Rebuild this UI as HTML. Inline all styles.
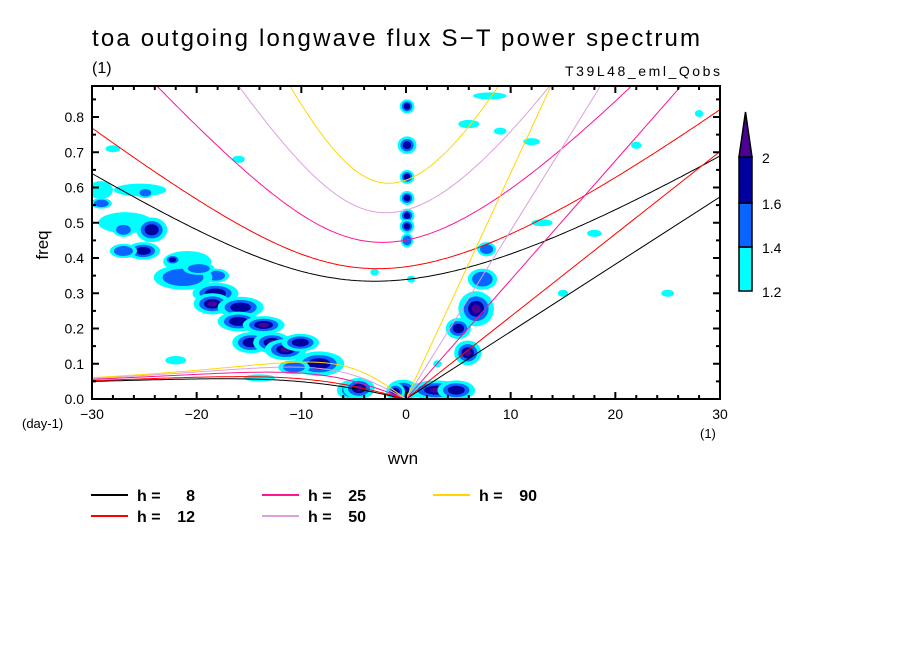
<!DOCTYPE html>
<html><head><meta charset="utf-8"><style>
body{margin:0;background:#fff}
svg text{font-family:"Liberation Sans","DejaVu Sans",sans-serif;fill:#000}
</style></head><body>
<svg id="chart" width="904" height="654" viewBox="0 0 904 654" xmlns="http://www.w3.org/2000/svg">
<defs><clipPath id="plotclip"><rect x="92" y="86" width="628" height="313"/></clipPath></defs>
<rect width="904" height="654" fill="#fff"/>
<text x="92" y="46" font-size="24" textLength="608" lengthAdjust="spacing">toa outgoing longwave flux S−T power spectrum</text>
<text x="92" y="73" font-size="16">(1)</text>
<text x="565" y="76" font-size="14" textLength="155" lengthAdjust="spacing">T39L48_eml_Qobs</text>
<g id="blobs" clip-path="url(#plotclip)"></g>
<g id="curves" clip-path="url(#plotclip)"></g>
<g id="axes"></g>
<text x="48" y="245" font-size="17" transform="rotate(-90 48 245)" text-anchor="middle">freq</text>
<text x="22" y="428" font-size="13">(day-1)</text>
<text x="700" y="438" font-size="13">(1)</text>
<text x="403" y="464" font-size="17" text-anchor="middle">wvn</text>
<g id="legend"></g>
<g id="colorbar"></g>
</svg>
<script>
// ---- data ----
const depths = [8, 12, 25, 50, 90];
const depthColors = ['#000000', '#ff0000', '#ff1493', '#dda0dd', '#ffd700'];
const xTicks = [-30, -20, -10, 0, 10, 20, 30];
const yTicks = [0, 0.1, 0.2, 0.3, 0.4, 0.5, 0.6, 0.7, 0.8];
const cbLevels = [1.2, 1.4, 1.6, 2];
const levelColors = ['#00ffff', '#0a64ff', '#0000a0', '#4b0096'];
// blobs: wavenumber, freq, half-width (wvn), half-height (freq), level (1..4)
const blobK = [-29.2,-25.4,-24.9,-29.1,-26.8,-24.3,-27.0,-25.1,-27.0,-20.9,-22.3,-18.2,-21.3,-19.8,-18.2,-18.5,-15.8,-16.0,-13.6,-14.8,-12.8,-11.5,-10.1,-8.3,-10.7,-5.0,-0.3,0.1,0.1,0.1,0.1,0.1,0.1,0.1,6.7,5.9,5.0,7.3,7.7,2.9,4.8,-4.5,-1.0,-22,-14,3,8,12,18,25,28,9,6,13,22,-16,-28,-3,0.5,15];
const blobF = [0.593,0.593,0.585,0.555,0.50,0.48,0.48,0.42,0.42,0.39,0.395,0.35,0.345,0.37,0.30,0.27,0.26,0.22,0.21,0.16,0.16,0.14,0.16,0.10,0.09,0.025,0.025,0.83,0.72,0.63,0.57,0.52,0.49,0.45,0.256,0.131,0.20,0.34,0.425,0.025,0.025,0.03,0.02,0.11,0.06,0.10,0.86,0.73,0.47,0.30,0.81,0.76,0.78,0.50,0.72,0.68,0.71,0.36,0.34,0.30];
const blobDk = [1.2,2.5,0.8,1.0,2.6,1.5,1.0,1.6,1.3,2.3,0.8,1.3,2.8,1.5,2.2,1.8,2.2,2.0,2.0,1.8,1.8,2.0,1.8,2.4,1.5,1.6,1.5,0.7,0.9,0.7,0.7,0.7,0.7,0.6,1.7,1.3,1.2,1.4,0.9,2.6,1.8,1.5,0.9,1.0,1.5,0.4,1.6,0.8,0.7,0.6,0.4,0.6,1.0,1.0,0.5,0.6,0.7,0.4,0.4,0.5];
const blobDf = [0.025,0.018,0.015,0.015,0.03,0.035,0.02,0.025,0.02,0.03,0.015,0.02,0.035,0.018,0.03,0.03,0.03,0.028,0.025,0.03,0.03,0.03,0.025,0.035,0.02,0.03,0.03,0.02,0.025,0.02,0.02,0.02,0.02,0.02,0.05,0.035,0.03,0.03,0.02,0.028,0.028,0.03,0.025,0.012,0.01,0.01,0.01,0.01,0.01,0.01,0.01,0.01,0.012,0.01,0.01,0.01,0.01,0.01,0.01,0.01];
const blobLevel = [1,1,2,2,1,3,2,3,2,1,3,2,2,2,3,4,3,3,4,3,4,4,3,3,2,3,4,3,3,3,3,3,3,2,4,4,3,2,2,4,3,4,3,1,1,1,1,1,1,1,1,1,1,1,1,1,1,1,1,1];

// ---- axes functions ----
const X0=92,X1=720,Y0=399,Y1=86, KMIN=-30,KMAX=30, FMAX=(399-86)/352.5;
const sx=k=>X0+(k-KMIN)/(KMAX-KMIN)*(X1-X0);
const sy=f=>Y0-f/FMAX*(Y0-Y1);
const NS='http://www.w3.org/2000/svg';
function mk(tag,attrs,parent){const e=document.createElementNS(NS,tag);for(const a in attrs)e.setAttribute(a,attrs[a]);parent.appendChild(e);return e;}

// ---- blobs ----
const gB=document.getElementById('blobs');
const scales=[1,0.7,0.45,0.25];
for(let i=0;i<blobK.length;i++){
  for(let l=0;l<blobLevel[i];l++){
    const rx=blobDk[i]*scales[l]*(X1-X0)/(KMAX-KMIN), ry=blobDf[i]*scales[l]*(Y0-Y1)/FMAX;
    const e=mk('ellipse',{cx:sx(blobK[i]),cy:sy(blobF[i]),rx:rx,ry:ry,fill:levelColors[l]},gB);
    
    
  }
}

// ---- dispersion curves ----
const beta=2.289e-11, a=6.371e6, g=9.8;
function roots(k){ // w^3-(k^2+3)w-k=0
  const p=-(k*k+3), q=-k, m=2*Math.sqrt(-p/3);
  const th=Math.acos(Math.max(-1,Math.min(1,3*q/(2*p)*Math.sqrt(-3/p))))/3;
  return [0,1,2].map(j=>m*Math.cos(th-2*Math.PI*j/3)).sort((u,v)=>u-v);
}
const gC=document.getElementById('curves');
depths.forEach((h,i)=>{
  const c=Math.sqrt(g*h), L=Math.sqrt(c/beta), T=Math.sqrt(beta*c)*86400/(2*Math.PI);
  let ig='',ro='';
  for(let s=-30;s<=30.001;s+=0.25){
    const kn=s/a*L, r=roots(kn);
    ig+=(ig?'L':'M')+sx(s).toFixed(1)+','+sy(r[2]*T).toFixed(1);
    if(s<=0) ro+=(ro?'L':'M')+sx(s).toFixed(1)+','+sy(r[1]*T).toFixed(1);
  }
  const p1=mk('path',{d:ig,stroke:depthColors[i],'stroke-width':1,fill:'none'},gC);
  
  
  const p2=mk('path',{d:ro,stroke:depthColors[i],'stroke-width':1,fill:'none'},gC);
  
  
  const kf=30/a*c*86400/(2*Math.PI);
  const p3=mk('line',{x1:sx(0),y1:sy(0),x2:sx(30),y2:sy(kf),stroke:depthColors[i],'stroke-width':1},gC);
  
  
});

// ---- axes ----
const gA=document.getElementById('axes');
const fr=mk('rect',{x:X0,y:Y1,width:X1-X0,height:Y0-Y1,fill:'none',stroke:'#000','stroke-width':2},gA);


for(let k=-30;k<=30;k+=2){
  const len=(k%10===0)?7:4;
  mk('line',{x1:sx(k),y1:Y0,x2:sx(k),y2:Y0-len,stroke:'#000','stroke-width':2},gA);
  mk('line',{x1:sx(k),y1:Y1,x2:sx(k),y2:Y1+len,stroke:'#000','stroke-width':2},gA);
}
for(let j=0;j*0.05<=FMAX;j++){
  const f=j*0.05, len=(j%2===0)?7:4;
  mk('line',{x1:X0,y1:sy(f),x2:X0+len,y2:sy(f),stroke:'#000','stroke-width':2},gA);
  mk('line',{x1:X1,y1:sy(f),x2:X1-len,y2:sy(f),stroke:'#000','stroke-width':2},gA);
}
xTicks.forEach(k=>{
  const t=mk('text',{x:sx(k),y:419,'font-size':14,'text-anchor':'middle'},gA);
  t.textContent=(k<0?'−':'')+Math.abs(k);
  
  
});
yTicks.forEach(f=>{
  const t=mk('text',{x:84,y:sy(f)+5,'font-size':14,'text-anchor':'end'},gA);
  t.textContent=f.toFixed(1);
  
  
});

// ---- legend ----
const gL=document.getElementById('legend');
const legX=[91,91,262,262,433], legY=[495,516,495,516,495];
depths.forEach((h,i)=>{
  const ln=mk('line',{x1:legX[i],y1:legY[i],x2:legX[i]+37,y2:legY[i],stroke:depthColors[i],'stroke-width':2},gL);
  
  
  const t1=mk('text',{x:legX[i]+46,y:legY[i]+6,'font-size':16,'font-weight':'bold'},gL);
  t1.textContent='h =';
  
  
  const t2=mk('text',{x:legX[i]+104,y:legY[i]+6,'font-size':16,'font-weight':'bold','text-anchor':'end'},gL);
  t2.textContent=String(h);
  
  
});

// ---- colorbar ----
const gK=document.getElementById('colorbar');
const cbY=[291,247,203,157];
for(let i=0;i<3;i++){
  const r=mk('rect',{x:739,y:cbY[i+1],width:13,height:cbY[i]-cbY[i+1],fill:levelColors[i],stroke:'#000','stroke-width':1.5},gK);
  
  
}
const tri=mk('polygon',{points:'739,157 752,157 745.5,112',fill:levelColors[3],stroke:'#000','stroke-width':1.5},gK);


cbLevels.forEach((v,i)=>{
  const t=mk('text',{x:762,y:cbY[i]+6,'font-size':14},gK);
  t.textContent=String(v);
  
  
});
</script>
</body></html>
